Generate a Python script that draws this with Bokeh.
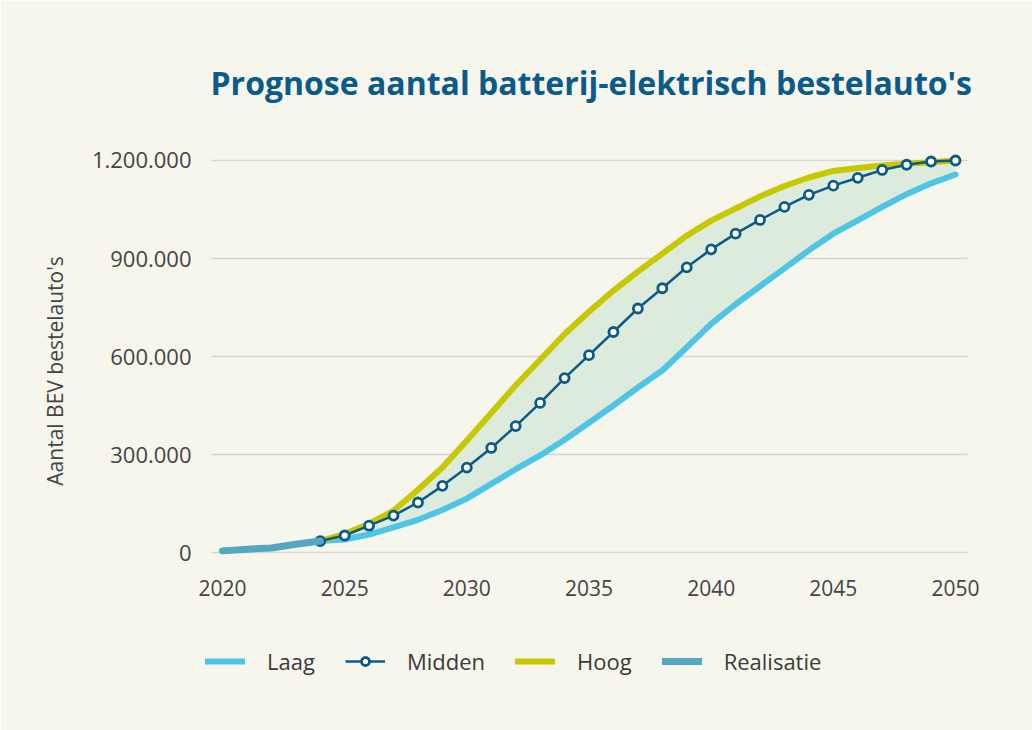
from bokeh.plotting import figure
from bokeh.models import Legend, LegendItem, FixedTicker
from bokeh.embed import file_html
from bokeh.resources import INLINE

# ---- data ----
years_real = [2020, 2021, 2022, 2023, 2024]
realisatie = [5000, 10000, 14000, 25000, 35000]

years = list(range(2024, 2051))
laag = [35000, 40000, 55000, 77000, 100000, 130000, 165000, 210000, 255000, 297000,
        345000, 397000, 450000, 505000, 557000, 628000, 700000, 760000, 815000, 870000,
        925000, 976000, 1017000, 1058000, 1097000, 1130000, 1157000]
midden = [35000, 52000, 82000, 113000, 153000, 204000, 260000, 320000, 387000, 458000,
          534000, 604000, 675000, 747000, 809000, 873000, 928000, 976000, 1018000, 1058000,
          1095000, 1123000, 1147000, 1171000, 1187000, 1197000, 1200000]
hoog = [35000, 57000, 88000, 128000, 192000, 260000, 343000, 427000, 512000, 590000,
        669000, 737000, 802000, 860000, 915000, 970000, 1016000, 1053000, 1090000, 1122000,
        1148000, 1168000, 1177000, 1185000, 1190000, 1195000, 1200000]

x_ticks = [2020, 2025, 2030, 2035, 2040, 2045, 2050]
x_tick_labels = [str(t) for t in x_ticks]
y_ticks = [0, 300000, 600000, 900000, 1200000]
y_tick_labels = ["0", "300.000", "600.000", "900.000", "1.200.000"]

title_text = "Prognose aantal batterij-elektrisch bestelauto's"
y_label = "Aantal BEV bestelauto's"

CREAM = "#f6f6ec"
FONT = "Open Sans"
TXT = "#444444"

GRID_X0, GRID_X1 = 2019.55, 2050.49   # horizontal extent of the grid lines
XLAB_Y = -110200                        # vertical position of the year labels

p = figure(width=1032, height=730, x_range=(2018.977, 2051.228), y_range=(-453058, 1230612),
           output_backend="svg", toolbar_location=None,
           min_border_left=197, min_border_right=47, min_border_top=150, min_border_bottom=30)
p.background_fill_color = CREAM
p.border_fill_color = CREAM
p.outline_line_color = None

# title
p.title.text = title_text
p.title.text_font = FONT
p.title.text_font_style = "bold"
p.title.text_font_size = "32px"
p.title.text_color = "#0a5a8a"
p.title.align = "left"
p.title.offset = 13
p.title.standoff = 94

# x axis hidden; year labels drawn as text at the tick values
p.xaxis.visible = False
p.text(x=x_ticks, y=[XLAB_Y] * len(x_ticks), text=x_tick_labels,
       text_font_size="21px", text_color=TXT, text_align="center", text_baseline="middle",
       text_font={"value": FONT})

p.yaxis.ticker = FixedTicker(ticks=y_ticks)
p.yaxis.major_label_overrides = {t: l for t, l in zip(y_ticks, y_tick_labels)}
p.yaxis.axis_line_color = None
p.yaxis.major_tick_line_color = None
p.yaxis.minor_tick_line_color = None
p.yaxis.major_label_standoff = 0
p.yaxis.major_label_text_font = FONT
p.yaxis.major_label_text_font_size = "22px"
p.yaxis.major_label_text_color = TXT
p.yaxis.axis_label = "\u00a0" * 20 + y_label
p.yaxis.axis_label_text_font = FONT
p.yaxis.axis_label_text_font_style = "normal"
p.yaxis.axis_label_text_font_size = "21px"
p.yaxis.axis_label_text_color = TXT
p.yaxis.axis_label_standoff = 20

p.xgrid.visible = False
p.ygrid.visible = False
p.segment(x0=[GRID_X0] * len(y_ticks), x1=[GRID_X1] * len(y_ticks), y0=y_ticks, y1=y_ticks,
          line_color="#d6d6d0", line_width=1.5)

# band
p.varea(x=years, y1=laag, y2=hoog, fill_color="#dcebdc", fill_alpha=1.0)

r_laag = p.line(years, laag, line_color="#4ec5e5", line_width=6, line_cap="round", line_join="round")
r_hoog = p.line(years, hoog, line_color="#c8c800", line_width=6, line_cap="round", line_join="round")
r_mid_l = p.line(years, midden, line_color="#0b5a87", line_width=2.5)
r_mid_s = p.scatter(years, midden, size=9, marker="circle", fill_color="white",
                    line_color="#0b5a87", line_width=2.8)
r_real = p.line(years_real, realisatie, line_color="#55a6c0", line_width=7, line_cap="round", line_join="round")

legend = Legend(items=[
    LegendItem(label="Laag", renderers=[r_laag]),
    LegendItem(label="Midden", renderers=[r_mid_l, r_mid_s]),
    LegendItem(label="Hoog", renderers=[r_hoog]),
    LegendItem(label="Realisatie", renderers=[r_real]),
], orientation="horizontal", location=(8, 24))
legend.background_fill_alpha = 0
legend.border_line_color = None
legend.padding = 0
legend.margin = 0
legend.spacing = 30
legend.glyph_width = 40
legend.glyph_height = 20
legend.label_standoff = 22
legend.label_text_font = FONT
legend.label_text_font_size = "22px"
legend.label_text_color = "#3a3a3a"
p.add_layout(legend, "center")

open("out.html", "w").write(file_html(p, INLINE))
